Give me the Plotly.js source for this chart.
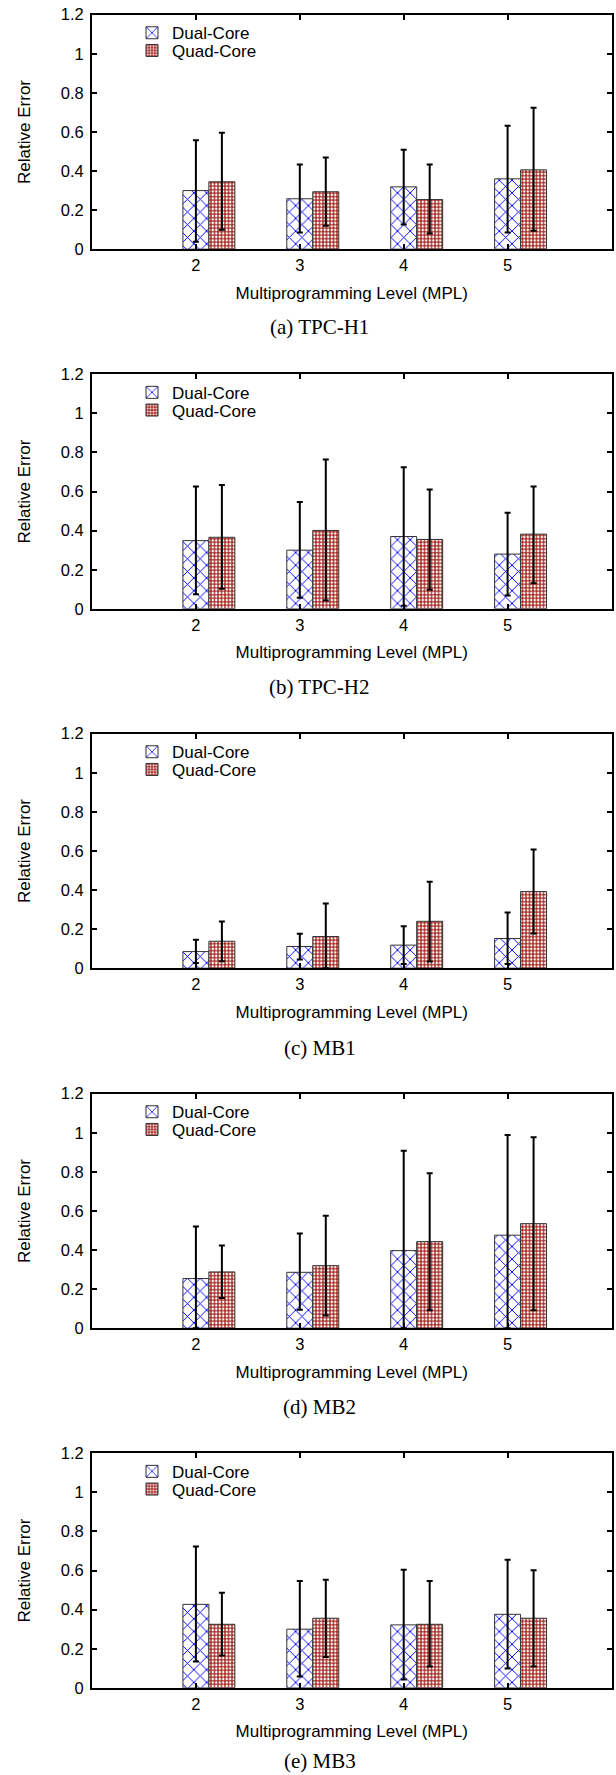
<!DOCTYPE html>
<html>
<head>
<meta charset="utf-8">
<script src="https://cdn.plot.ly/plotly-3.0.1.min.js"></script>
<style>
  html, body { margin: 0; padding: 0; background: #fff; }
  #chart { width: 616px; height: 1775px; }
</style>
</head>
<body>
<div id="chart"></div>
<script>
// ---- data ----
const mpl = [2, 3, 4, 5];
const seriesNames = ['Dual-Core', 'Quad-Core'];
const captions = ['(a) TPC-H1', '(b) TPC-H2', '(c) MB1', '(d) MB2', '(e) MB3'];

// (a) TPC-H1
const tpch1Dual     = [0.30, 0.258, 0.319, 0.36];
const tpch1DualLow  = [0.038, 0.085, 0.126, 0.085];
const tpch1DualHigh = [0.558, 0.434, 0.509, 0.632];
const tpch1Quad     = [0.345, 0.294, 0.254, 0.406];
const tpch1QuadLow  = [0.099, 0.12, 0.08, 0.094];
const tpch1QuadHigh = [0.596, 0.469, 0.434, 0.724];

// (b) TPC-H2
const tpch2Dual     = [0.349, 0.30, 0.37, 0.28];
const tpch2DualLow  = [0.075, 0.056, 0.015, 0.068];
const tpch2DualHigh = [0.626, 0.547, 0.724, 0.491];
const tpch2Quad     = [0.366, 0.401, 0.355, 0.382];
const tpch2QuadLow  = [0.102, 0.043, 0.097, 0.131];
const tpch2QuadHigh = [0.634, 0.764, 0.61, 0.626];

// (c) MB1
const mb1Dual     = [0.085, 0.111, 0.118, 0.152];
const mb1DualLow  = [0.027, 0.044, 0.022, 0.022];
const mb1DualHigh = [0.145, 0.176, 0.215, 0.285];
const mb1Quad     = [0.138, 0.162, 0.24, 0.392];
const mb1QuadLow  = [0.036, 0.0, 0.034, 0.177];
const mb1QuadHigh = [0.239, 0.331, 0.443, 0.607];

// (d) MB2
const mb2Dual     = [0.254, 0.286, 0.397, 0.476];
const mb2DualLow  = [0.0, 0.095, 0.0, 0.0];
const mb2DualHigh = [0.52, 0.484, 0.908, 0.989];
const mb2Quad     = [0.288, 0.32, 0.443, 0.535];
const mb2QuadLow  = [0.155, 0.065, 0.092, 0.092];
const mb2QuadHigh = [0.423, 0.576, 0.793, 0.977];

// (e) MB3
const mb3Dual     = [0.427, 0.30, 0.322, 0.376];
const mb3DualLow  = [0.134, 0.058, 0.043, 0.099];
const mb3DualHigh = [0.723, 0.546, 0.604, 0.655];
const mb3Quad     = [0.325, 0.356, 0.325, 0.356];
const mb3QuadLow  = [0.165, 0.157, 0.109, 0.109];
const mb3QuadHigh = [0.487, 0.553, 0.546, 0.601];

const yTickVals = [0, 0.2, 0.4, 0.6, 0.8, 1, 1.2];

// ---- build ----
const panels = [
  [[tpch1Dual, tpch1DualLow, tpch1DualHigh], [tpch1Quad, tpch1QuadLow, tpch1QuadHigh]],
  [[tpch2Dual, tpch2DualLow, tpch2DualHigh], [tpch2Quad, tpch2QuadLow, tpch2QuadHigh]],
  [[mb1Dual, mb1DualLow, mb1DualHigh], [mb1Quad, mb1QuadLow, mb1QuadHigh]],
  [[mb2Dual, mb2DualLow, mb2DualHigh], [mb2Quad, mb2QuadLow, mb2QuadHigh]],
  [[mb3Dual, mb3DualLow, mb3DualHigh], [mb3Quad, mb3QuadLow, mb3QuadHigh]]
];

const W = 616, H = 1775;
const plotLeft = 92, plotRight = 611.5;
const panelTops = [14.7, 374.3, 733.7, 1093.7, 1453.3];
const panelHeight = 234.5;
const captionY = [327, 687, 1048, 1407, 1761];
const legendRowOffsets = [18.5, 36.2];

const FONT = '"Liberation Sans", Arial, Helvetica, sans-serif';
const SERIF = '"Liberation Serif", "Times New Roman", Times, serif';

const patterns = [
  { shape: 'x', fgcolor: '#0000ff', bgcolor: '#ffffff', size: 9, solidity: 0.2, fillmode: 'replace' },
  { shape: '.', fgcolor: '#ffffff', bgcolor: '#a52a24', size: 3.5, solidity: 0.4, fillmode: 'replace' }
];
const offsets = [-0.125, 0.125];
const barWidth = 0.25;

const data = [];
const layout = {
  width: W, height: H,
  margin: { l: 0, r: 0, t: 0, b: 0 },
  paper_bgcolor: '#fff', plot_bgcolor: '#fff',
  font: { family: FONT, size: 16, color: '#000' },
  barmode: 'overlay',
  showlegend: true,
  annotations: []
};

let traceIdx = 0;
panels.forEach((panel, i) => {
  const sfx = i === 0 ? '' : String(i + 1);
  const top = panelTops[i], bottom = top + panelHeight;
  panel.forEach((ser, s) => {
    const [vals, lows, highs] = ser;
    const legendName = traceIdx === 0 ? 'legend' : 'legend' + (traceIdx + 1);
    data.push({
      type: 'bar',
      name: seriesNames[s],
      x: mpl,
      y: vals,
      width: barWidth,
      offset: offsets[s],
      xaxis: 'x' + sfx,
      yaxis: 'y' + sfx,
      legend: legendName,
      marker: {
        color: patterns[s].bgcolor,
        line: { color: '#333333', width: 1 },
        pattern: patterns[s]
      },
      error_y: {
        type: 'data',
        symmetric: false,
        array: highs.map((h, k) => h - vals[k]),
        arrayminus: lows.map((l, k) => vals[k] - l),
        color: '#000',
        thickness: 2,
        width: 3
      },
      hoverinfo: 'y'
    });
    layout[legendName] = {
      x: 132 / W, y: 1 - (top + legendRowOffsets[s]) / H,
      xanchor: 'left', yanchor: 'middle',
      xref: 'paper', yref: 'paper',
      bgcolor: 'rgba(0,0,0,0)',
      borderwidth: 0,
      font: { family: FONT, size: 17, color: '#000' },
      itemclick: false, itemdoubleclick: false
    };
    traceIdx++;
  });

  layout['xaxis' + sfx] = {
    domain: [plotLeft / W, plotRight / W],
    anchor: 'y' + sfx,
    range: [1, 6],
    tickvals: mpl,
    ticktext: mpl.map(String),
    ticks: 'inside', ticklen: 5, tickwidth: 2, tickcolor: '#000',
    showline: true, linewidth: 2, linecolor: '#000', mirror: 'ticks',
    showgrid: false, zeroline: false,
    ticklabelstandoff: 0,
    tickfont: { family: FONT, size: 16.5, color: '#000' },
    title: { text: 'Multiprogramming Level (MPL)', font: { family: FONT, size: 17, color: '#000' }, standoff: 14 },
    automargin: false
  };
  layout['yaxis' + sfx] = {
    domain: [1 - bottom / H, 1 - top / H],
    anchor: 'x' + sfx,
    range: [0, 1.2],
    tickvals: yTickVals,
    ticks: 'inside', ticklen: 5, tickwidth: 2, tickcolor: '#000',
    showline: true, linewidth: 2, linecolor: '#000', mirror: 'ticks',
    showgrid: false, zeroline: false,
    ticklabelstandoff: 3,
    tickfont: { family: FONT, size: 16.5, color: '#000' },
    title: { text: 'Relative Error', font: { family: FONT, size: 17, color: '#000' }, standoff: 26 },
    automargin: false
  };
  layout.annotations.push({
    text: captions[i],
    xref: 'paper', yref: 'paper',
    x: 320 / W, y: 1 - captionY[i] / H,
    xanchor: 'center', yanchor: 'middle',
    showarrow: false,
    font: { family: SERIF, size: 21, color: '#000' }
  });
});

Plotly.newPlot('chart', data, layout, { staticPlot: true, displayModeBar: false });
</script>
</body>
</html>
